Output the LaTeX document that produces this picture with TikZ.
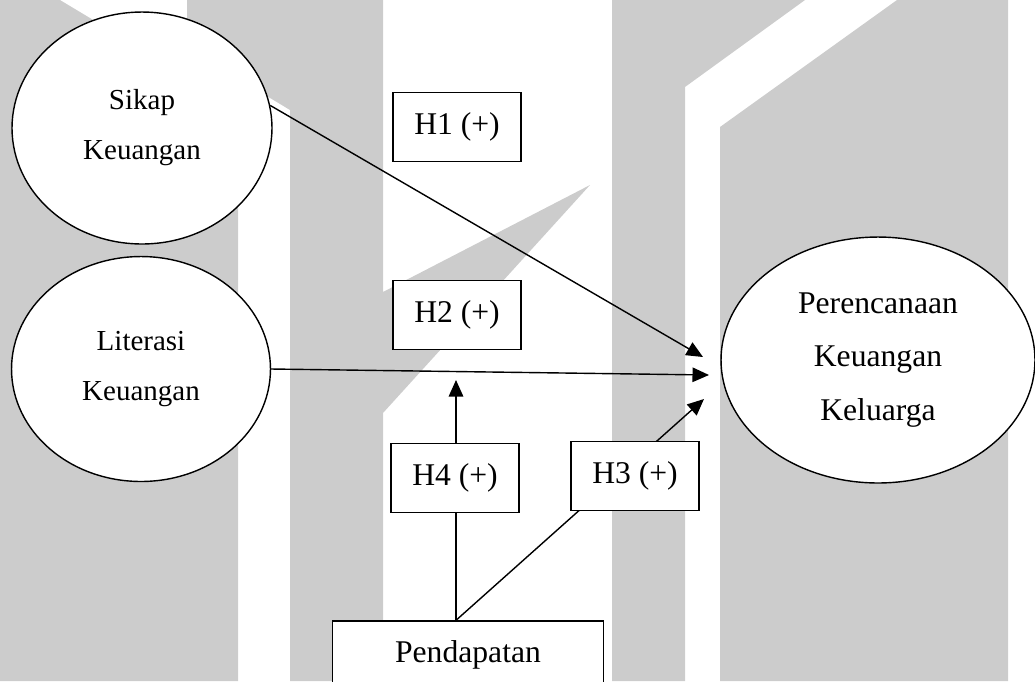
\documentclass[tikz,border=0pt]{standalone}
\usepackage{fontspec}
\setmainfont{Liberation Serif}
\usetikzlibrary{shapes.geometric,arrows.meta}
\pgfdeclarelayer{marks}
\pgfdeclarelayer{links}
\pgfsetlayers{marks,links,main}
\tikzset{
  var/.style={ellipse, draw, fill=white, line width=0.8pt, inner sep=0pt, align=center,
    font=\fontsize{16.5}{28.5}\selectfont},
  hyp/.style={rectangle, draw, fill=white, line width=0.8pt, inner sep=0pt,
    minimum width=2.56cm, minimum height=1.38cm, font=\fontsize{18}{22}\selectfont},
  link/.style={line width=0.8pt, -{Triangle[length=0.33cm,width=0.29cm]}},
  wmark/.style={fill=black!20},
}
\begin{document}
\begin{tikzpicture}[x=0.02cm,y=-0.02cm]
\useasboundingbox (0,0) rectangle (1035,681);
% watermark in the back
\begin{pgfonlayer}{marks}
  \fill[wmark] (0,0) -- (60,0) -- (238,107) -- (238,681) -- (0,681) -- cycle;
  \fill[wmark] (187,0) -- (383,0) -- (383,292) -- (590,185) -- (383,413) -- (383,681)
    -- (290,681) -- (290,110) -- (187,48) -- cycle;
  \fill[wmark] (612,0) -- (805,0) -- (685,87) -- (685,681) -- (612,681) -- cycle;
  \fill[wmark] (897,0) -- (1008,0) -- (1008,681) -- (720,681) -- (720,127) -- cycle;
\end{pgfonlayer}
% variables
\node[var, minimum width=5.2cm, minimum height=4.64cm] (sikap) at (142,128) {Sikap\\Keuangan};
\node[var, minimum width=5.18cm, minimum height=4.5cm] (literasi) at (141,369) {Literasi\\Keuangan};
\node[var, minimum width=6.28cm, minimum height=4.92cm, font=\fontsize{18}{30.7}\selectfont]
  (rencana) at (878,360) {Perencanaan\\Keuangan\\Keluarga};
% hypotheses
\node[hyp] (h1) at (457,127) {H1 (+)};
\node[hyp] (h2) at (457,315) {H2 (+)};
\node[hyp] (h4) at (455,478) {H4 (+)};
\node[hyp] (h3) at (635,476) {H3 (+)};
\node[hyp, minimum width=5.42cm, minimum height=1.36cm] (income) at (468,655) {Pendapatan};
% arrow ends
\coordinate (t1) at (703,357);
\coordinate (t2) at (709,375);
\coordinate (t3) at (704,399);
\coordinate (t4) at (456,380);
\begin{pgfonlayer}{links}
  \draw[link] (sikap.10) -- (t1);
  \draw[link] (literasi.east) -- (t2);
  \draw[link] (t4 |- income.north) -- (t4);
  \draw[link] (t4 |- income.north) -- (t3);
\end{pgfonlayer}
\end{tikzpicture}
\end{document}
